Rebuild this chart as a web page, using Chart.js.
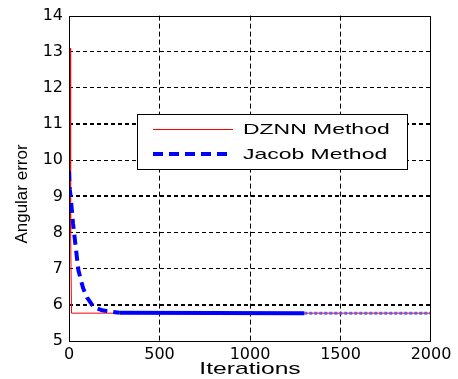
<!DOCTYPE html>
<html><head><meta charset="utf-8">
<script src="https://cdn.jsdelivr.net/npm/chart.js@4"></script>
<style>html,body{margin:0;padding:0;background:#fff;overflow:hidden}</style>
</head><body><canvas id="c" width="458" height="379" style="display:block;width:458px;height:379px"></canvas>
<script>
// ---- data ----
const xTicks = [0, 500, 1000, 1500, 2000];
const yTicks = [5, 6, 7, 8, 9, 10, 11, 12, 13, 14];
const dznnIter = [6, 8, 10, 14, 2000];
const dznnErr  = [13.1, 13.0, 8.0, 5.77, 5.77];
const jacobIter = [0, 4, 9, 22, 37, 52, 65, 78, 100, 128, 155, 183, 230, 280, 1300, 2000];
const jacobErr  = [9.7, 9.2, 9.0, 8.26, 7.6, 6.96, 6.7, 6.46, 6.2, 6.0, 5.9, 5.85, 5.81, 5.78, 5.77, 5.77];
const seriesNames = ['DZNN Method', 'Jacob Method'];
const xTitle = 'Iterations';
const yTitle = 'Angular error';
const boldGridY = [6, 9, 11];

const toPts = (xs, ys) => xs.map((x, i) => ({x: x, y: ys[i]}));

const overlay = {
  id: 'overlay',
  afterDraw(chart) {
    const ctx = chart.ctx, a = chart.chartArea;
    ctx.save();
    // frame
    ctx.strokeStyle = '#000'; ctx.lineWidth = 1; ctx.setLineDash([]);
    ctx.strokeRect(Math.round(a.left) + 0.5, Math.round(a.top) + 0.5,
                   Math.round(a.right - a.left) - 1, Math.round(a.bottom - a.top));
    // legend
    const lx = 137.5, ly = 114.5, lw = 270, lh = 55;
    ctx.fillStyle = '#fff'; ctx.fillRect(lx, ly, lw, lh);
    ctx.strokeRect(lx, ly, lw, lh);
    const ds = chart.data.datasets;
    ctx.strokeStyle = ds[0].borderColor; ctx.lineWidth = ds[0].borderWidth;
    ctx.beginPath(); ctx.moveTo(153, 129.5); ctx.lineTo(233, 129.5); ctx.stroke();
    ctx.strokeStyle = ds[1].borderColor; ctx.lineWidth = ds[1].borderWidth;
    ctx.setLineDash([10, 6]);
    ctx.beginPath(); ctx.moveTo(153, 154); ctx.lineTo(233, 154); ctx.stroke();
    ctx.setLineDash([]);
    ctx.fillStyle = '#000';
    ctx.textBaseline = 'middle'; ctx.textAlign = 'left';
    ctx.font = '15px "Liberation Sans", Arial, sans-serif';
    const drawStretched = (t, x, y, sx) => {
      ctx.save(); ctx.translate(x, y); ctx.scale(sx, 1); ctx.fillText(t, 0, 0); ctx.restore();
    };
    drawStretched(ds[0].label, 243, 130, 1.53);
    drawStretched(ds[1].label, 243, 155, 1.53);
    // x title
    ctx.textAlign = 'center';
    ctx.font = '17px "Liberation Sans", Arial, sans-serif';
    drawStretched(xTitle, (a.left + a.right) / 2, 369, 1.45);
    // y title
    ctx.font = '17px "Liberation Sans", Arial, sans-serif';
    ctx.save(); ctx.translate(22, 194); ctx.rotate(-Math.PI / 2);
    ctx.fillText(yTitle, 0, 0); ctx.restore();
    ctx.restore();
  }
};

new Chart(document.getElementById('c'), {
  type: 'line',
  data: {
    datasets: [
      { label: seriesNames[0], data: toPts(dznnIter, dznnErr), borderColor: '#ff0000',
        borderWidth: 1, pointRadius: 0, tension: 0, order: 1 },
      { label: seriesNames[1], data: toPts(jacobIter, jacobErr), borderColor: '#0000ff',
        borderWidth: 4, borderDash: [10, 6], pointRadius: 0, tension: 0, order: 0,
        segment: {
          borderDash: c => c.p0.parsed.x >= 1300 ? [3, 2] : (c.p0.parsed.x >= 280 ? [] : undefined),
          borderColor: c => c.p0.parsed.x >= 1300 ? 'rgba(90,90,235,0.9)' : undefined,
          borderWidth: c => c.p0.parsed.x >= 1300 ? 3 : undefined
        } }
    ]
  },
  options: {
    responsive: false, animation: false, devicePixelRatio: 1,
    layout: { padding: { top: 15, right: 27, left: 0, bottom: 0 } },
    plugins: { legend: { display: false }, tooltip: { enabled: false } },
    scales: {
      x: {
        type: 'linear', min: 0, max: 2000,
        afterBuildTicks: s => { s.ticks = xTicks.map(v => ({ value: v })); },
        afterFit: s => { s.height = 38; },
        ticks: { color: '#000', padding: 4, maxRotation: 0,
                 callback: v => String(v),
                 font: { family: '"DejaVu Sans"', size: 16 } },
        grid: { drawTicks: false, lineWidth: 1,
                color: c => (c.tick && (c.tick.value === 0 || c.tick.value === 2000)) ? 'rgba(0,0,0,0)' : '#000' },
        border: { display: false, dash: [5, 3] }
      },
      y: {
        type: 'linear', min: 5, max: 14,
        afterBuildTicks: s => { s.ticks = yTicks.map(v => ({ value: v })); },
        afterFit: s => { s.width = 69; },
        ticks: { color: '#000', padding: 6,
                 callback: v => String(v),
                 font: { family: '"DejaVu Sans"', size: 16 } },
        grid: { drawTicks: false,
                lineWidth: c => (c.tick && boldGridY.includes(c.tick.value)) ? 2 : 1,
                color: c => (c.tick && (c.tick.value === 5 || c.tick.value === 14)) ? 'rgba(0,0,0,0)' : '#000' },
        border: { display: false, dash: [4, 3] }
      }
    }
  },
  plugins: [overlay]
});
</script>
</body></html>
